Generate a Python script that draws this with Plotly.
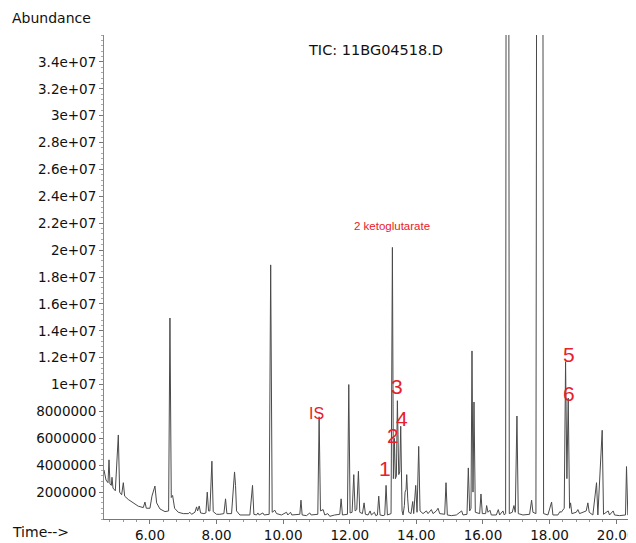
import plotly.graph_objects as go

# Retention time (min) and abundance of the TIC trace
time_min = [
    4.62, 4.68, 4.74, 4.77, 4.80, 4.84, 4.86, 4.89, 4.96, 5.05, 5.09, 5.15, 5.20, 5.24,
    5.35, 5.50, 5.65, 5.80, 5.85, 5.89, 6.00, 6.06, 6.09, 6.15, 6.20, 6.30, 6.45, 6.56,
    6.60, 6.64, 6.68, 6.74, 6.85, 7.00, 7.15, 7.20, 7.25, 7.35, 7.40, 7.43, 7.48, 7.52,
    7.62, 7.68, 7.72, 7.76, 7.80, 7.86, 7.90, 8.00, 8.10, 8.22, 8.27, 8.31, 8.45, 8.54,
    8.57, 8.60, 8.70, 8.85, 9.00, 9.08, 9.12, 9.20, 9.24, 9.28, 9.39, 9.43, 9.58, 9.625,
    9.67, 9.75, 9.80, 9.95, 10.10, 10.14, 10.22, 10.26, 10.40, 10.50, 10.535, 10.57,
    10.70, 10.80, 10.84, 11.04, 11.08, 11.12, 11.20, 11.25, 11.34, 11.40, 11.55, 11.70,
    11.74, 11.78, 11.93, 11.97, 12.01, 12.07, 12.12, 12.16, 12.21, 12.26, 12.30, 12.38,
    12.43, 12.47, 12.55, 12.61, 12.65, 12.74, 12.78, 12.83, 12.87, 12.91, 13.00, 13.05,
    13.09, 13.13, 13.24, 13.28, 13.31, 13.34, 13.37, 13.40, 13.43, 13.47, 13.50, 13.53,
    13.57, 13.60, 13.64, 13.66, 13.69, 13.71, 13.74, 13.77, 13.84, 13.89, 13.92, 13.98,
    14.02, 14.07, 14.11, 14.20, 14.30, 14.35, 14.45, 14.50, 14.60, 14.65, 14.70, 14.85,
    14.89, 14.93, 15.05, 15.20, 15.36, 15.40, 15.52, 15.56, 15.60, 15.64, 15.67, 15.70,
    15.73, 15.77, 15.90, 15.94, 15.98, 16.08, 16.11, 16.15, 16.21, 16.25, 16.40, 16.46,
    16.50, 16.60, 16.64, 16.68, 16.70, 16.77, 16.79, 16.88, 16.93, 16.97, 17.02, 17.06,
    17.20, 17.40, 17.46, 17.50, 17.59, 17.62, 17.79, 17.82, 17.95, 18.06, 18.10, 18.25,
    18.31, 18.35, 18.44, 18.48, 18.52, 18.56, 18.60, 18.63, 18.67, 18.80, 18.85, 18.90,
    19.10, 19.15, 19.19, 19.30, 19.41, 19.45, 19.58, 19.62, 19.76, 19.80, 19.91, 19.95,
    20.10, 20.28, 20.31, 20.35, 20.45, 20.49, 20.53, 20.60,
]
abundance = [
    3.65e6, 2.9e6, 2.7e6, 4.4e6, 2.6e6, 2.5e6, 3.1e6, 2.3e6, 2.1e6, 6.25e6, 2.0e6, 1.8e6, 2.7e6, 1.7e6,
    1.45e6, 1.2e6, 0.95e6, 0.85e6, 1.26e6, 0.8e6, 0.8e6, 1.7e6, 1.9e6, 2.45e6, 1.2e6, 0.75e6, 0.55e6, 0.6e6,
    14.95e6, 1.6e6, 1.75e6, 0.8e6, 0.5e6, 0.4e6, 0.4e6, 0.5e6, 0.35e6, 0.5e6, 0.9e6, 0.6e6, 0.97e6, 0.45e6,
    0.4e6, 0.45e6, 2.0e6, 0.6e6, 0.6e6, 4.3e6, 0.55e6, 0.35e6, 0.35e6, 0.4e6, 1.5e6, 0.4e6, 0.4e6, 3.5e6,
    2.5e6, 0.6e6, 0.3e6, 0.3e6, 0.3e6, 2.5e6, 0.35e6, 0.3e6, 0.45e6, 0.3e6, 0.45e6, 0.3e6, 0.35e6, 18.9e6,
    0.5e6, 0.65e6, 0.4e6, 0.3e6, 0.5e6, 0.3e6, 0.5e6, 0.3e6, 0.3e6, 0.35e6, 1.4e6, 0.3e6,
    0.25e6, 0.45e6, 0.3e6, 0.35e6, 7.6e6, 0.6e6, 0.7e6, 0.3e6, 0.4e6, 0.2e6, 0.3e6, 0.35e6,
    1.5e6, 0.3e6, 0.35e6, 10.0e6, 0.45e6, 0.5e6, 3.3e6, 0.6e6, 0.7e6, 3.55e6, 0.5e6, 0.4e6,
    1.2e6, 0.35e6, 0.3e6, 0.6e6, 0.3e6, 0.5e6, 0.25e6, 0.3e6, 1.7e6, 0.3e6, 0.25e6, 0.3e6,
    2.5e6, 0.3e6, 0.4e6, 20.2e6, 3.0e6, 6.0e6, 3.0e6, 3.2e6, 8.8e6, 3.3e6, 3.5e6, 6.9e6,
    0.6e6, 0.3e6, 1.0e6, 2.0e6, 2.2e6, 3.3e6, 1.5e6, 0.5e6, 0.4e6, 1.3e6, 0.4e6, 2.5e6,
    0.5e6, 5.4e6, 0.6e6, 0.4e6, 0.6e6, 0.4e6, 0.7e6, 0.4e6, 0.6e6, 0.8e6, 0.4e6, 0.35e6,
    2.7e6, 0.3e6, 0.25e6, 0.3e6, 0.6e6, 0.3e6, 0.35e6, 3.8e6, 0.6e6, 0.8e6, 12.5e6, 2.0e6,
    8.7e6, 0.5e6, 0.4e6, 1.86e6, 0.4e6, 0.4e6, 1.0e6, 0.5e6, 0.65e6, 0.3e6, 0.3e6, 0.7e6,
    0.3e6, 0.6e6, 0.3e6, 0.4e6, 60e6, 60e6, 0.4e6, 0.5e6, 1.0e6, 0.5e6, 7.66e6, 0.4e6,
    0.3e6, 0.35e6, 1.4e6, 0.5e6, 0.4e6, 60e6, 60e6, 0.4e6, 0.3e6, 1.26e6, 0.3e6, 0.3e6,
    0.55e6, 0.5e6, 0.8e6, 11.7e6, 3.0e6, 9.0e6, 0.8e6, 1.2e6, 0.4e6, 0.5e6, 0.7e6, 0.4e6,
    0.6e6, 1.2e6, 0.5e6, 0.3e6, 2.7e6, 0.3e6, 6.6e6, 0.35e6, 0.6e6, 0.3e6, 0.6e6, 0.3e6,
    0.25e6, 0.3e6, 3.9e6, 0.3e6, 0.3e6, 3.7e6, 0.3e6, 0.3e6,
]

# Axis ticks
y_tick_values = [2e6 * k for k in range(1, 18)]
y_tick_labels = ["2000000", "4000000", "6000000", "8000000", "1e+07", "1.2e+07",
                 "1.4e+07", "1.6e+07", "1.8e+07", "2e+07", "2.2e+07", "2.4e+07",
                 "2.6e+07", "2.8e+07", "3e+07", "3.2e+07", "3.4e+07"]
x_tick_values = [6, 8, 10, 12, 14, 16, 18, 20]
x_tick_labels = ["6.00", "8.00", "10.00", "12.00", "14.00", "16.00", "18.00", "20.00"]

# Peak labels (text, retention time, abundance of label)
peak_labels = ["IS", "1", "2", "3", "4", "5", "6"]
peak_label_t = [11.0, 13.06, 13.30, 13.43, 13.57, 18.58, 18.58]
peak_label_a = [7.85e6, 3.79e6, 6.18e6, 9.82e6, 7.51e6, 12.2e6, 9.37e6]

# The page body has an 8px margin; the figure is sized so the plot area sits at
# x 104..636, y 35..519 of the 636x543 window.
BODY = 8
W, H = 636 - BODY, 543 - BODY
L, T = 104 - BODY, 35 - BODY
B = (H + BODY) - 519
PW, PH = W - L, H - T - B

fig = go.Figure()
fig.add_trace(go.Scatter(
    x=time_min, y=abundance, mode="lines",
    line=dict(color="#4a4a4a", width=1),
    hoverinfo="x+y", showlegend=False,
))

annotations = []
for txt, t, a in zip(peak_labels, peak_label_t, peak_label_a):
    annotations.append(dict(
        x=t, y=a, xref="x", yref="y", text=txt, showarrow=False,
        font=dict(family="Liberation Sans Narrow, Liberation Sans, Arial",
                  size=21 if txt != "IS" else 16, color="#e8202a"),
        xanchor="center", yanchor="middle",
    ))
annotations.append(dict(
    x=13.28, y=21.82e6, xref="x", yref="y", text="2 ketoglutarate", showarrow=False,
    font=dict(family="Liberation Sans, Arial", size=11.5, color="#e8202a"),
    xanchor="center", yanchor="middle",
))
annotations.append(dict(
    x=(375 - 104) / PW, y=(519 - 50) / PH, xref="paper", yref="paper",
    text="TIC: 11BG04518.D", showarrow=False,
    font=dict(family="DejaVu Sans", size=14.5, color="#111"),
    xanchor="center", yanchor="middle",
))
annotations.append(dict(
    x=(10 - 104) / PW, y=(519 - 18) / PH, xref="paper", yref="paper",
    text="Abundance", showarrow=False,
    font=dict(family="DejaVu Sans", size=14, color="#111"),
    xanchor="left", yanchor="middle",
))
annotations.append(dict(
    x=(10 - 104) / PW, y=(519 - 532) / PH, xref="paper", yref="paper",
    text="Time-->", showarrow=False,
    font=dict(family="DejaVu Sans", size=14, color="#111"),
    xanchor="left", yanchor="middle",
))

fig.update_layout(
    width=W, height=H,
    margin=dict(l=L, r=0, t=T, b=B, autoexpand=False),
    paper_bgcolor="white", plot_bgcolor="white",
    annotations=annotations,
    showlegend=False,
)
fig.update_xaxes(
    range=[4.62, 20.595], tickvals=x_tick_values, ticktext=x_tick_labels,
    showgrid=False, zeroline=False, showline=True, linecolor="#777", linewidth=1,
    ticks="outside", ticklen=4, tickcolor="#777",
    minor=dict(dtick=0.4, ticks="outside", ticklen=2, tickcolor="#999", showgrid=False),
    tickfont=dict(family="DejaVu Sans", size=13.5, color="#111"),
)
fig.update_yaxes(
    range=[0, 3.6e7], tickvals=y_tick_values, ticktext=y_tick_labels,
    showgrid=False, zeroline=False, showline=True, linecolor="#888", linewidth=1,
    ticks="outside", ticklen=4, tickcolor="#777",
    minor=dict(dtick=4e5, ticks="outside", ticklen=2, tickcolor="#aaa", showgrid=False),
    tickfont=dict(family="DejaVu Sans", size=13.5, color="#111"),
)

fig.write_html("out.html")
